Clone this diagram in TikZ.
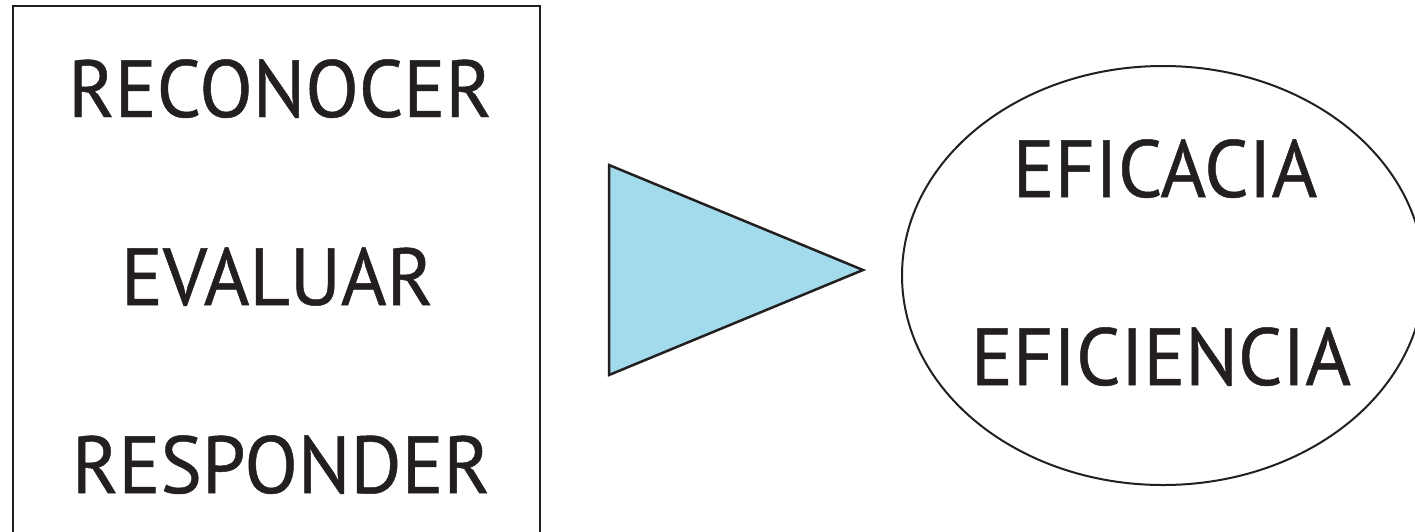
\documentclass[tikz,border=0pt]{standalone}
\usepackage{fontspec}
\setmainfont{PT Sans}[FakeStretch=0.965,FakeBold=0.6]
\usetikzlibrary{shapes.geometric}
\definecolor{ink}{RGB}{35,31,32}
\definecolor{tri}{RGB}{162,220,236}
\tikzset{
  word/.style={font=\fontsize{81}{81}\selectfont, text=ink, inner sep=0pt, anchor=base},
  frame/.style={draw=ink, line width=2pt},
}
\begin{document}
\begin{tikzpicture}[x=1pt,y=-1pt]
\useasboundingbox (0,0) rectangle (1415,531);
\clip (0,0) rectangle (1415,531);
\fill[white] (0,0) rectangle (1415,531);
% left box
\node[frame, rectangle, minimum width=527pt, minimum height=539pt, inner sep=0pt] (box) at (276.5,275.5) {};
\node[word] (rec) at (280,117) {RECONOCER};
\node[word] (eva) at (277,305) {EVALUAR};
\node[word] (res) at (281,493) {RESPONDER};
% triangle
\coordinate (t1) at (609,165);
\coordinate (t2) at (863,270);
\coordinate (t3) at (609,375);
\filldraw[fill=tri, draw=ink, line width=2.5pt, line join=miter] (t1) -- (t2) -- (t3) -- cycle;
% ellipse
\node[frame, ellipse, minimum width=522pt, minimum height=419pt, inner sep=0pt] (oval) at (1163,275.5) {};
\node[word] (efa) at (1165,197) {EFICACIA};
\node[word] (efi) at (1161,385) {EFICIENCIA};
\end{tikzpicture}
\end{document}
